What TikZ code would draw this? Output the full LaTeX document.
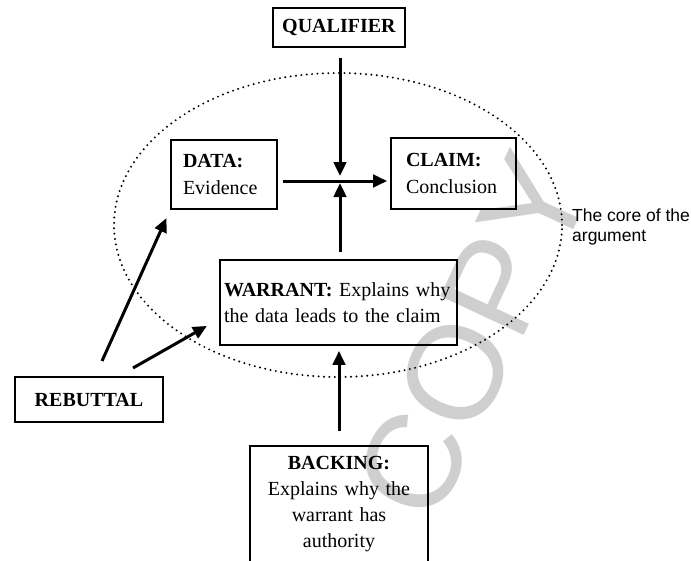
\documentclass[tikz,border=0pt]{standalone}
\usepackage{fontspec}
\setmainfont{Liberation Serif}
\newfontfamily\arialfont{Liberation Sans}
\usetikzlibrary{arrows.meta,calc,shapes.geometric}
\tikzset{
  box/.style={draw=black, line width=1.8pt, rectangle, font=\fontsize{20}{26.5}\selectfont},
  arr/.style={line width=3pt, -{Triangle[length=14pt,width=12.5pt]}},
  coreline/.style={draw=black, line width=2.2pt, line cap=round, dash pattern=on 0pt off 5.4pt},
}
\begin{document}
\begin{tikzpicture}[x=1pt,y=-1pt]
\useasboundingbox (0,0) rectangle (691,560);
% watermark
\node[rotate=65, text=black!19, font=\fontsize{134}{134}\selectfont\arialfont, inner sep=0] (wm) at (473,336) {COPY};
% core ellipse
\node[coreline, ellipse, inner sep=0, minimum width=448pt, minimum height=304pt] (core) at (338,225) {};
% boxes
\node[box, minimum width=132pt, minimum height=39pt, inner sep=0, align=center] (qual) at (339,27.5) {\textbf{QUALIFIER}};
\node[box, minimum height=69pt, inner xsep=12pt, inner ysep=0, text width=82pt, align=left] (data) at (224,174.5) {\textbf{DATA:}\\Evidence};
\node[box, minimum height=71pt, inner xsep=15pt, inner ysep=0, text width=95pt, align=left] (claim) at (453.5,173.5) {\textbf{CLAIM:}\\Conclusion};
\node[box, minimum height=85pt, inner xsep=4pt, inner ysep=0, text width=229pt, align=left] (warrant) at (338.5,302.5) {\textbf{WARRANT:} Explains why\\the data leads to the claim};
\node[box, minimum height=116pt, inner xsep=4pt, inner ysep=0, text width=170pt, align=center, font=\fontsize{20}{25.7}\selectfont] (backing) at (339,504) {\textbf{BACKING:}\\Explains why the\\warrant has\\authority};
\node[box, minimum width=148pt, minimum height=45pt, inner sep=0, align=center] (rebut) at (89,399.5) {\textbf{REBUTTAL}};
% label
\node[anchor=north west, inner sep=0, align=left, font=\fontsize{17.5}{20}\selectfont\arialfont] (corelabel) at (572,209) {The core of the\\argument};
% connectors
\coordinate (hub) at (340,181);
\coordinate (r1) at (102,361);
\coordinate (r2) at (133,368);
\draw[arr, shorten <=10pt, shorten >=5pt] (qual.south -| hub) -- (hub);
\draw[arr, shorten <=7pt, shorten >=2pt] (warrant.north -| hub) -- (hub);
\draw[arr, shorten <=5pt, shorten >=3pt] (data.east |- hub) -- (claim.west |- hub);
\draw[arr, shorten <=14pt, shorten >=5pt] (backing.north) -- (backing.north |- warrant.south);
\draw[arr, shorten >=9pt] (r1) -- (data.south west);
\draw[arr, shorten >=14pt] (r2) -- ([yshift=-16.5pt]warrant.west);
\end{tikzpicture}
\end{document}
